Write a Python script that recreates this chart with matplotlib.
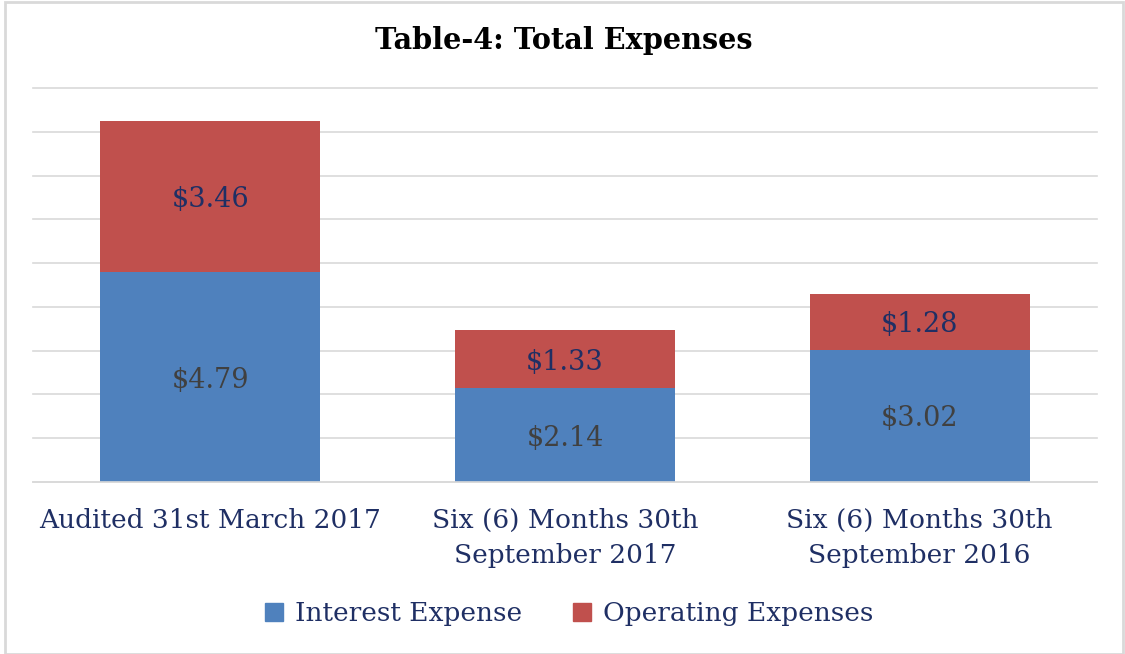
import matplotlib.pyplot as plt
from matplotlib.patches import Rectangle
from matplotlib.lines import Line2D
import numpy as np

categories = ["Audited 31st March 2017",
              "Six (6) Months 30th\nSeptember 2017",
              "Six (6) Months 30th\nSeptember 2016"]
interest = [4.79, 2.14, 3.02]
operating = [3.46, 1.33, 1.28]
series_names = ["Interest Expense", "Operating Expenses"]

BLUE = "#4F81BD"
RED = "#C0504D"
NAVY = "#1F2F64"
GRAY = "#404040"

plt.rcParams["font.family"] = ["DejaVu Serif"]

fig = plt.figure(figsize=(11.25, 6.54), dpi=100)
fig.patches.append(Rectangle((0.004, 0.0), 0.994, 0.997, transform=fig.transFigure,
                             fill=False, edgecolor="#D9D9D9", linewidth=2))
ax = fig.add_axes([0.0293, 0.263, 0.9458, 0.6024])

x = np.arange(len(categories))
w = 0.62
ax.bar(x, interest, w, color=BLUE, zorder=2)
ax.bar(x, operating, w, bottom=interest, color=RED, zorder=2)

for xi, a, b in zip(x, interest, operating):
    ax.text(xi, a / 2, f"${a:.2f}", ha="center", va="center_baseline", color=GRAY, fontsize=19.5)
    ax.text(xi, a + b / 2, f"${b:.2f}", ha="center", va="center_baseline", color=NAVY, fontsize=19.5)

ax.set_xlim(-0.5, 2.5)
ax.set_ylim(0, 9)
ax.set_yticks(np.arange(0, 10, 1))
ax.yaxis.grid(True, color="#D9D9D9", linewidth=1.2, zorder=0)
for gl in ax.get_ygridlines():
    gl.set_clip_on(False)
ax.tick_params(axis="y", left=False, labelleft=False)
ax.tick_params(axis="x", bottom=False, pad=15)
ax.set_xticks(x)
ax.set_xticklabels(categories, fontsize=19, color=NAVY, linespacing=1.5)
for s in ("top", "right", "left"):
    ax.spines[s].set_visible(False)
ax.spines["bottom"].set_color("#D9D9D9")
ax.spines["bottom"].set_linewidth(1.2)

fig.text(0.501, 0.938, "Table-4: Total Expenses", ha="center", va="center",
         fontsize=20.7, fontweight="bold", color="black")

handles = [Line2D([], [], marker="s", linestyle="", markersize=13, color=c)
           for c in (BLUE, RED)]
fig.legend(handles, series_names, loc="center", bbox_to_anchor=(0.4983, 0.062),
           ncol=2, frameon=False, fontsize=19, handletextpad=-0.2, columnspacing=1.25,
           labelcolor=NAVY)

fig.savefig("out.png", dpi=100)
